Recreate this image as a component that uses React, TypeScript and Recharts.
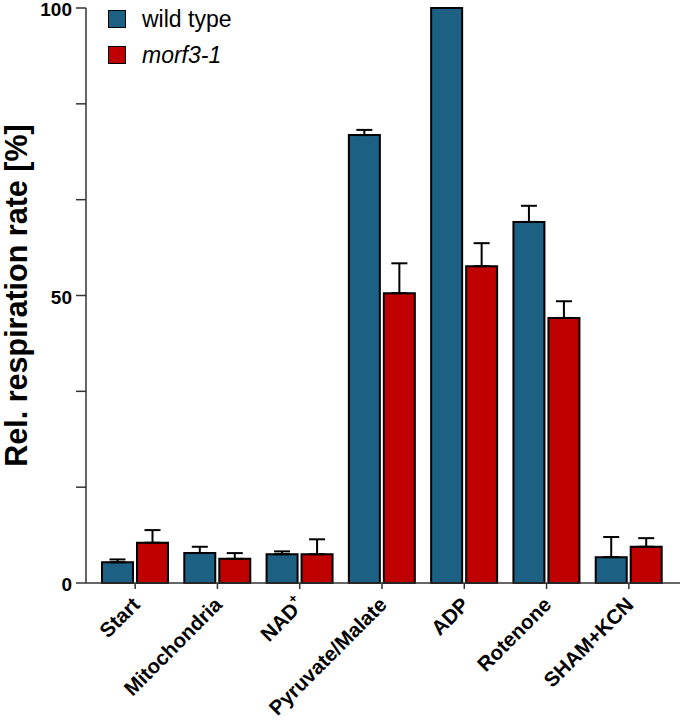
import { BarChart, Bar, XAxis, YAxis, ErrorBar, Legend, Label } from 'recharts'

const categories = ['Start', 'Mitochondria', 'NAD⁺', 'Pyruvate/Malate', 'ADP', 'Rotenone', 'SHAM+KCN']
const wildType = [3.6, 5.2, 5.0, 77.9, 100, 62.8, 4.5]
const wildTypeSem = [0.5, 1.1, 0.5, 0.9, 0, 2.8, 3.5]
const morf3 = [7.0, 4.2, 5.0, 50.4, 55.1, 46.1, 6.3]
const morf3Sem = [2.2, 1.0, 2.6, 5.2, 4.0, 2.9, 1.5]
const yTicks = [0, 100 / 6, 200 / 6, 50, 400 / 6, 500 / 6, 100]
const yLabels = [0, 50, 100]

const BLUE = '#1c6084'
const RED = '#c00000'
const FONT = '"Liberation Sans", Arial, sans-serif'

const data = categories.map((name, i) => ({
  name,
  wt: wildType[i],
  wtErr: [0, wildTypeSem[i]],
  morf: morf3[i],
  morfErr: [0, morf3Sem[i]],
}))

// rotated category label; a trailing ⁺ is drawn as a raised small "+"
const CategoryTick = ({ x, y, payload }: any) => {
  const [main, sup] = String(payload.value).split('⁺')
  const ax = x + 6
  const ay = y + 15
  return (
    <text
      x={ax}
      y={ay}
      textAnchor="end"
      transform={`rotate(-45, ${ax}, ${ay})`}
      fontFamily={FONT}
      fontWeight="bold"
      fontSize={20.5}
      fill="#000"
    >
      {main}
      {sup !== undefined && (
        <tspan dy={-10} fontSize={13}>
          +
        </tspan>
      )}
    </text>
  )
}

// only 0, 50 and 100 get a number; the other ticks stay bare
const ValueTick = ({ x, y, payload }: any) => {
  const v = payload.value
  if (!yLabels.some((l) => Math.abs(l - v) < 0.01)) return null
  return (
    <text x={x} y={y + 8} textAnchor="end" fontFamily={FONT} fontWeight="bold" fontSize={19} fill="#000">
      {Math.round(v)}
    </text>
  )
}

const renderLegend = () => {
  const items = [
    { label: 'wild type', color: BLUE, italic: false },
    { label: 'morf3-1', color: RED, italic: true },
  ]
  return (
    <div>
      {items.map((it) => (
        <div key={it.label} style={{ display: 'flex', alignItems: 'center', height: 36 }}>
          <span
            style={{
              width: 16,
              height: 16,
              background: it.color,
              border: '1.5px solid #000',
              marginRight: 16,
            }}
          />
          <span
            style={{
              fontFamily: FONT,
              fontSize: 23,
              fontStyle: it.italic ? 'italic' : 'normal',
              color: '#000',
            }}
          >
            {it.label}
          </span>
        </div>
      ))}
    </div>
  )
}

const App = () => {
  return (
    <div style={{ position: 'absolute', left: 0, top: 0 }}>
      <BarChart
        width={680}
        height={720}
        data={data}
        margin={{ top: 8, right: 0, bottom: 7, left: 0 }}
        barGap={4}
        barCategoryGap={8}
      >
        <XAxis
          dataKey="name"
          interval={0}
          tick={<CategoryTick />}
          tickSize={6}
          height={130}
          padding={{ left: 8, right: 10 }}
          stroke="#333"
          strokeWidth={1.5}
        />
        <YAxis
          domain={[0, 100]}
          ticks={yTicks}
          interval={0}
          width={86}
          tickSize={10}
          tickMargin={4}
          stroke="#333"
          strokeWidth={1.5}
          tick={<ValueTick />}
        >
          <Label
            content={({ viewBox }: any) => {
              const cx = viewBox.x + 27
              const cy = viewBox.y + viewBox.height / 2
              return (
                <text
                  x={cx}
                  y={cy}
                  textAnchor="middle"
                  transform={`rotate(-90, ${cx}, ${cy})`}
                  fontFamily={FONT}
                  fontWeight="bold"
                  fontSize={30.5}
                  fill="#000"
                >
                  Rel. respiration rate [%]
                </text>
              )
            }}
          />
        </YAxis>
        <Legend
          layout="vertical"
          align="center"
          verticalAlign="middle"
          content={renderLegend}
          wrapperStyle={{ top: 1, left: 108, width: 200 }}
        />
        <Bar dataKey="wt" name="wild type" fill={BLUE} stroke="#000" strokeWidth={2} isAnimationActive={false}>
          <ErrorBar dataKey="wtErr" direction="y" width={8} stroke="#000" strokeWidth={2} />
        </Bar>
        <Bar dataKey="morf" name="morf3-1" fill={RED} stroke="#000" strokeWidth={2} isAnimationActive={false}>
          <ErrorBar dataKey="morfErr" direction="y" width={8} stroke="#000" strokeWidth={2} />
        </Bar>
      </BarChart>
    </div>
  )
}

export default App
